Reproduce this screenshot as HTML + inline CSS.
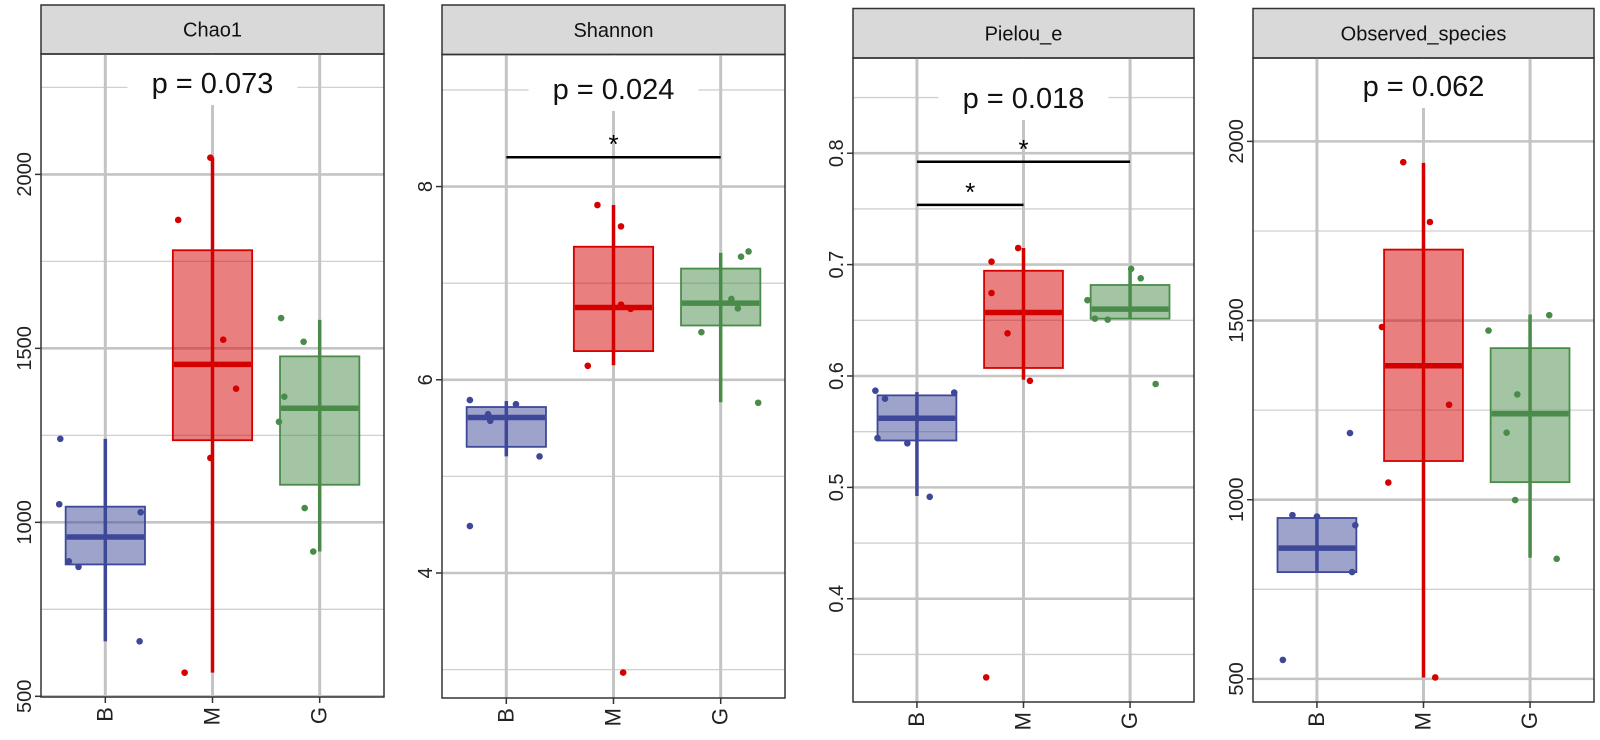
<!DOCTYPE html>
<html><head><meta charset="utf-8">
<style>
html,body{margin:0;padding:0;background:#fff;}
svg{display:block;font-family:"Liberation Sans",Arial,sans-serif;}
</style></head>
<body>
<svg id="chart" width="1600" height="740" viewBox="0 0 1600 740" xmlns="http://www.w3.org/2000/svg"></svg>
<script>
// ---- shared data ----
const categories = ["B","M","G"];
const panelTitles = ["Chao1","Shannon","Pielou_e","Observed_species"];
const pValues = ["p = 0.073","p = 0.024","p = 0.018","p = 0.062"];

// y tick labels per panel
const ticksChao1 = [500,1000,1500,2000];
const ticksShannon = [4,6,8];
const ticksPielou = [0.4,0.5,0.6,0.7,0.8];
const ticksObserved = [500,1000,1500,2000];
const tickLabelsPielou = ["0.4","0.5","0.6","0.7","0.8"];
const minorChao1 = [750,1250,1750,2250];
const minorShannon = [3,5,7,9];
const minorPielou = [0.35,0.45,0.55,0.65,0.75,0.85];
const minorObserved = [750,1250,1750];

// y domains per panel
const domainChao1 = [498,2346];
const domainShannon = [2.706,9.367];
const domainPielou = [0.3073,0.8855];
const domainObserved = [435.5,2232.7];

// box stats [lowerWhisker, q1, median, q3, upperWhisker] per group B,M,G
const boxChao1 = [[658,879,958,1045,1240],[568,1236,1454,1782,2048],[916,1108,1328,1477,1582]];
const boxShannon = [[5.207,5.306,5.61,5.718,5.78],[6.15,6.297,6.748,7.377,7.809],[5.767,6.562,6.793,7.151,7.313]];
const boxPielou = [[0.4923,0.5421,0.5621,0.5826,0.5855],[0.5966,0.6072,0.657,0.6945,0.7149],[0.6515,0.6515,0.66,0.6817,0.6962]];
const boxObserved = [[798,798,865,949,955],[504,1108,1374,1698,1940],[838,1049,1240,1423,1517]];

// sample points per group
const ptsChao1 = [[1240,1052,888,872,1029,658],[1869,2048,1525,1384,1185,568],[1587,1519,1361,1289,1041,916]];
const ptsShannon = [[5.79,5.747,5.644,5.575,5.207,4.486],[7.809,7.588,6.778,6.734,6.145,2.969],[7.328,7.274,6.837,6.739,6.493,5.762]];
const ptsPielou = [[0.5868,0.5796,0.5851,0.5443,0.5396,0.4915],[0.7149,0.7026,0.6745,0.6383,0.5957,0.3294],[0.6962,0.6877,0.6681,0.6515,0.6506,0.5928]];
const ptsObserved = [[957,953,929,1186,798,553],[1942,1775,1482,1265,1048,504],[1515,1472,1294,1187,999,835]];

// horizontal jitter (in category units)
const jitChao1 = [[-0.42,-0.43,-0.34,-0.25,0.33,0.32],[-0.32,-0.02,0.1,0.22,-0.02,-0.26],[-0.36,-0.15,-0.33,-0.38,-0.14,-0.06]];
const jitShannon = [[-0.34,0.09,-0.17,-0.15,0.31,-0.34],[-0.15,0.07,0.07,0.16,-0.24,0.09],[0.26,0.19,0.1,0.16,-0.18,0.35]];
const jitPielou = [[-0.39,-0.3,0.35,-0.37,-0.09,0.12],[-0.05,-0.3,-0.3,-0.15,0.06,-0.35],[0.01,0.1,-0.4,-0.33,-0.21,0.24]];
const jitObserved = [[-0.23,0,0.36,0.31,0.33,-0.32],[-0.19,0.06,-0.39,0.24,-0.33,0.11],[0.18,-0.39,-0.12,-0.22,-0.14,0.25]];

// significance brackets [fromIdx, toIdx, yValue]
const sigShannon = [[0,2,8.304]];
const sigPielou = [[0,2,0.7923],[0,1,0.7536]];

const fills = ["#9ea3c9","#df7d7d","#97c5a0"];
const strokes = ["#3d4899","#d40000","#4a8b4a"];

const panels = [
 {title:0, x0:41, x1:384, stripTop:5, plotTop:54, plotBottom:697, domain:domainChao1, ticks:ticksChao1, tickLabels:ticksChao1.map(String), minor:minorChao1, box:boxChao1, pts:ptsChao1, jit:jitChao1, sig:[], pY:83},
 {title:1, x0:442, x1:785, stripTop:5, plotTop:54.5, plotBottom:698, domain:domainShannon, ticks:ticksShannon, tickLabels:ticksShannon.map(String), minor:minorShannon, box:boxShannon, pts:ptsShannon, jit:jitShannon, sig:sigShannon, pY:89},
 {title:2, x0:853, x1:1194, stripTop:8.5, plotTop:58, plotBottom:702, domain:domainPielou, ticks:ticksPielou, tickLabels:tickLabelsPielou, minor:minorPielou, box:boxPielou, pts:ptsPielou, jit:jitPielou, sig:sigPielou, pY:98},
 {title:3, x0:1253, x1:1594, stripTop:8.5, plotTop:58, plotBottom:702, domain:domainObserved, ticks:ticksObserved, tickLabels:ticksObserved.map(String), minor:minorObserved, box:boxObserved, pts:ptsObserved, jit:jitObserved, sig:[], pY:86}
];

const NS = "http://www.w3.org/2000/svg";
const svg = document.getElementById("chart");
function mk(tag, attrs, parent){
  const e = document.createElementNS(NS, tag);
  for (const k in attrs) e.setAttribute(k, attrs[k]);
  (parent||svg).appendChild(e);
  return e;
}

panels.forEach((p, pi) => {
  const g = mk("g", {});
  
  
  const w = p.x1 - p.x0;
  const step = w / 3.2;
  const xs = i => p.x0 + step * (0.6 + i);
  const ys = v => p.plotBottom - (v - p.domain[0]) / (p.domain[1] - p.domain[0]) * (p.plotBottom - p.plotTop);

  // strip
  const strip = mk("rect", {x:p.x0, y:p.stripTop, width:w, height:p.plotTop - p.stripTop, fill:"#d9d9d9", stroke:"#333", "stroke-width":1.5}, g);
  
  
  const st = mk("text", {x:p.x0 + w/2, y:(p.stripTop + p.plotTop)/2 + 7, "text-anchor":"middle", "font-size":20, fill:"#111"}, g);
  st.textContent = panelTitles[p.title];
  
  

  // grid
  p.minor.forEach(v => {
    const y = ys(v); if (y < p.plotTop || y > p.plotBottom) return;
    const l = mk("line", {x1:p.x0, x2:p.x1, y1:y, y2:y, stroke:"#d0d0d0", "stroke-width":1.3}, g);
    
    
  });
  p.ticks.forEach(v => {
    const y = ys(v);
    const l = mk("line", {x1:p.x0, x2:p.x1, y1:y, y2:y, stroke:"#c4c4c4", "stroke-width":2.6}, g);
    
    
  });
  categories.forEach((c, i) => {
    const l = mk("line", {x1:xs(i), x2:xs(i), y1:p.plotTop, y2:p.plotBottom, stroke:"#c4c4c4", "stroke-width":3}, g);
    
    
  });

  // p label with white background
  const pw = 150;
  const bg = mk("rect", {x:p.x0 + w/2 - pw/2 - 10, y:p.plotTop + 1, width:pw + 20, height:p.pY + 22 - p.plotTop - 1, fill:"#fff"}, g);
  
  
  const pt = mk("text", {x:p.x0 + w/2, y:p.pY + 10, "text-anchor":"middle", "font-size":29, fill:"#111"}, g);
  pt.textContent = pValues[pi];
  
  

  // boxes
  categories.forEach((c, i) => {
    const s = p.box[i];
    const cx = xs(i), bw = step * 0.74;
    const wh = mk("line", {x1:cx, x2:cx, y1:ys(s[0]), y2:ys(s[4]), stroke:strokes[i], "stroke-width":3.5}, g);
    
    
    const r = mk("rect", {x:cx - bw/2, y:ys(s[3]), width:bw, height:Math.max(ys(s[1]) - ys(s[3]), 0.5), fill:strokes[i], "fill-opacity":0.5, stroke:strokes[i], "stroke-width":1.8}, g);
    
    
    const md = mk("line", {x1:cx - bw/2 + 1, x2:cx + bw/2 - 1, y1:ys(s[2]), y2:ys(s[2]), stroke:strokes[i], "stroke-width":5.5}, g);
    
    
  });
  // points
  categories.forEach((c, i) => {
    p.pts[i].forEach((v, k) => {
      const pt2 = mk("circle", {cx:xs(i + p.jit[i][k]), cy:ys(v), r:3.3, fill:strokes[i]}, g);
      
      
    });
  });

  // significance
  p.sig.forEach(sg => {
    const y = ys(sg[2]);
    const l = mk("line", {x1:xs(sg[0]), x2:xs(sg[1]), y1:y, y2:y, stroke:"#000", "stroke-width":2.5}, g);
    
    
    const t = mk("text", {x:(xs(sg[0]) + xs(sg[1]))/2, y:y - 4, "text-anchor":"middle", "font-size":26, fill:"#000"}, g);
    t.textContent = "*";
    
    
  });

  // frame
  const fr = mk("rect", {x:p.x0, y:p.plotTop, width:w, height:p.plotBottom - p.plotTop, fill:"none", stroke:"#333", "stroke-width":1.5}, g);
  
  

  // y ticks
  p.ticks.forEach((v, k) => {
    const y = ys(v);
    const tk = mk("line", {x1:p.x0 - 6, x2:p.x0, y1:y, y2:y, stroke:"#333", "stroke-width":1.5}, g);
    
    
    const tx = p.x0 - 10;
    const t = mk("text", {x:tx, y:y, "text-anchor":"middle", "font-size":20, fill:"#222", transform:`rotate(-90 ${tx} ${y})`}, g);
    t.textContent = p.tickLabels[k];
    
    
  });
  // x ticks
  categories.forEach((c, i) => {
    const x = xs(i);
    const tk = mk("line", {x1:x, x2:x, y1:p.plotBottom, y2:p.plotBottom + 6, stroke:"#333", "stroke-width":1.5}, g);
    
    
    const ty = p.plotBottom + 10;
    const t = mk("text", {x:x + 7, y:ty, "text-anchor":"end", "font-size":22, fill:"#222", transform:`rotate(-90 ${x + 7} ${ty})`}, g);
    t.textContent = c;
    
    
  });
});
</script>
</body></html>
